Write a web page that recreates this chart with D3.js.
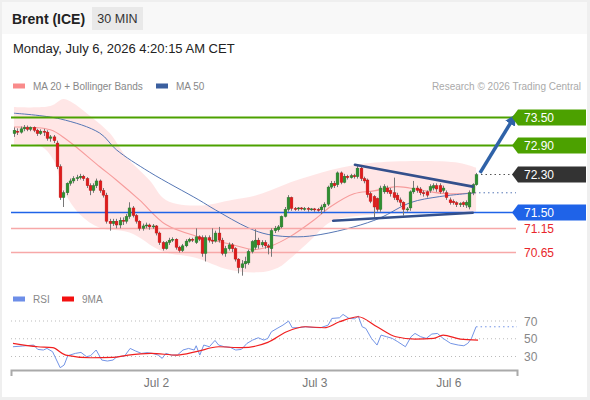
<!DOCTYPE html>
<html>
<head>
<meta charset="utf-8">
<script src="https://cdn.jsdelivr.net/npm/d3@7/dist/d3.min.js"></script>
<style>
  body { margin: 0; background: #efefef; font-family: "Liberation Sans", Arial, sans-serif; }
</style>
</head>
<body>
<div id="chart"></div>
<script>
// candle data, 30 min bars, index 0..140
var opens = [73.15,73.20,73.18,73.25,73.28,73.24,73.28,73.22,73.15,73.20,
  73.18,73.05,73.08,72.95,72.45,71.80,71.90,72.10,72.15,72.20,
  72.22,72.25,72.20,72.05,71.95,72.05,72.15,71.95,71.85,71.30,
  71.25,71.30,71.22,71.32,71.30,71.40,71.58,71.42,71.30,71.15,
  71.20,71.22,71.18,71.20,71.05,70.85,70.72,70.85,70.90,70.92,
  70.75,70.68,70.78,70.88,70.92,70.85,70.97,70.95,70.62,70.95,
  70.90,70.88,71.05,70.90,70.62,70.72,70.80,70.72,70.50,70.32,
  70.40,70.42,70.66,70.75,70.90,70.80,70.85,70.78,70.72,71.10,
  71.12,71.18,71.40,71.55,71.80,71.57,71.56,71.58,71.56,71.57,
  71.55,71.56,71.55,71.54,71.60,71.66,72.02,72.10,72.07,72.32,
  72.12,72.25,72.22,72.26,72.24,72.42,72.20,72.17,71.88,71.82,
  71.78,71.55,71.92,72.00,71.95,71.90,71.85,71.75,71.70,71.55,
  71.58,71.92,72.00,71.98,71.90,71.92,71.95,72.00,72.05,72.05,
  71.95,71.90,71.75,71.72,71.69,71.65,71.69,71.64,71.60,71.90,
  72.07];
var closes = [73.22,73.18,73.25,73.28,73.24,73.28,73.22,73.15,73.20,73.18,
  73.05,73.08,73.00,72.45,71.80,71.90,72.10,72.15,72.20,72.22,
  72.25,72.20,72.05,71.95,72.05,72.15,71.95,71.85,71.30,71.25,
  71.30,71.22,71.32,71.30,71.40,71.58,71.42,71.30,71.15,71.20,
  71.22,71.18,71.20,71.05,70.85,70.72,70.85,70.90,70.92,70.75,
  70.68,70.78,70.88,70.92,70.90,70.97,70.92,70.62,70.95,70.90,
  70.88,71.05,70.90,70.62,70.72,70.80,70.72,70.50,70.32,70.40,
  70.45,70.66,70.87,70.90,70.80,70.85,70.78,70.75,71.10,71.15,
  71.18,71.40,71.55,71.80,71.57,71.56,71.58,71.56,71.57,71.55,
  71.56,71.55,71.54,71.60,71.66,72.02,72.10,72.05,72.32,72.12,
  72.25,72.22,72.26,72.24,72.42,72.20,72.15,71.86,71.72,71.60,
  71.55,72.00,72.03,71.92,71.88,71.80,71.75,71.70,71.55,71.56,
  71.92,72.00,71.95,71.90,71.88,71.85,72.03,72.05,71.98,71.92,
  72.00,71.80,71.69,71.69,71.65,71.67,71.65,71.70,71.90,72.07,
  72.28];
var highs = [73.28,73.26,73.30,73.33,73.32,73.30,73.30,73.25,73.24,73.25,
  73.22,73.12,73.12,73.00,72.50,71.95,72.12,72.20,72.25,72.28,
  72.30,72.28,72.23,72.10,72.10,72.20,72.18,72.00,71.90,71.35,
  71.35,71.35,71.38,71.38,71.45,71.70,71.62,71.45,71.32,71.25,
  71.27,71.25,71.24,71.22,71.08,70.88,70.88,70.95,70.96,70.94,
  70.78,70.82,70.92,70.95,70.95,71.15,71.00,71.00,71.00,71.00,
  71.15,71.10,71.18,70.95,70.78,70.85,70.84,70.75,70.52,70.48,
  70.55,70.70,70.90,71.13,70.95,70.90,70.90,70.82,71.15,71.20,
  71.22,71.42,71.60,71.85,71.82,71.60,71.60,71.60,71.60,71.60,
  71.58,71.58,71.58,71.65,71.70,72.05,72.15,72.15,72.35,72.35,
  72.30,72.28,72.30,72.30,72.48,72.45,72.24,72.20,71.92,71.85,
  71.80,72.05,72.08,72.05,72.00,72.22,71.90,71.80,71.72,71.60,
  71.95,72.15,72.05,72.02,71.95,71.95,72.08,72.10,72.10,72.10,
  72.05,71.95,71.80,71.76,71.72,71.70,71.72,71.74,71.95,72.10,
  72.32];
var lows = [73.08,73.12,73.15,73.20,73.20,73.20,73.18,73.10,73.12,73.10,
  73.00,72.98,72.95,72.40,71.75,71.60,71.85,72.05,72.10,72.15,
  72.18,72.15,72.00,71.85,71.90,72.00,71.90,71.80,71.25,71.10,
  71.20,71.15,71.15,71.22,71.25,71.35,71.38,71.25,71.10,71.10,
  71.15,71.12,71.14,71.00,70.80,70.68,70.70,70.80,70.86,70.70,
  70.64,70.65,70.75,70.85,70.86,70.82,70.88,70.55,70.45,70.85,
  70.82,70.85,70.85,70.58,70.55,70.68,70.65,70.45,70.20,70.15,
  70.30,70.38,70.62,70.70,70.72,70.75,70.72,70.60,70.55,71.05,
  71.08,71.15,71.38,71.50,71.52,71.52,71.52,71.53,71.52,71.50,
  71.52,71.50,71.50,71.45,71.50,71.62,71.98,72.00,72.02,72.08,
  72.10,72.18,72.20,72.20,72.20,72.15,72.10,71.80,71.68,71.38,
  71.50,71.50,71.88,71.88,71.82,71.75,71.70,71.62,71.42,71.50,
  71.52,71.88,71.90,71.85,71.82,71.80,71.90,71.95,71.92,71.88,
  71.90,71.75,71.65,71.65,71.60,71.60,71.60,71.58,71.55,71.85,
  72.05];

// indicator lines: [bar index, price]
var ma20 = [[0,73.29],[11,73.23],[16,73.02],[26,72.45],[31,72.17],[38,71.75],[46,71.23],
  [56,70.97],[66,70.81],[73,70.70],[78,70.78],[84,70.99],[91,71.33],[96,71.61],
  [103,71.88],[109,71.94],[116,72.03],[123,71.96],[131,71.88],[140,71.90]];
var bbUpper = [[0,73.71],[11,73.73],[15,73.88],[18,73.79],[22,73.58],[29,73.16],[34,72.66],
  [41,72.17],[46,71.75],[56,71.63],[66,71.75],[72,71.82],[78,71.96],[84,72.13],[90,72.26],
  [96,72.38],[102,72.47],[108,72.53],[123,72.57],[135,72.53],[140,72.43]];
var bbLower = [[0,72.91],[8,72.89],[12,72.59],[15,71.96],[20,71.44],[26,71.16],[35,71.06],
  [45,70.66],[55,70.53],[65,70.28],[74,70.22],[80,70.32],[84,70.53],[90,70.91],[96,71.29],
  [105,71.42],[117,71.46],[129,71.48],[140,71.50]];
var ma50 = [[0,73.58],[14,73.46],[26,73.16],[31,72.81],[41,72.34],[56,71.75],[61,71.54],
  [71,71.16],[77,71.02],[86,70.97],[93,71.02],[103,71.18],[111,71.37],[120,71.69],
  [129,71.82],[140,71.90]];

// key levels
var levelValues = [73.50, 72.90, 72.30, 71.50, 71.15, 70.65];
var levelLabels = ["73.50", "72.90", "72.30", "71.50", "71.15", "70.65"];

// drawn pattern: triangle and target arrow, [bar index, price]
var triangleTop = [[103.3,72.49],[139,72.03]];
var triangleBottom = [[96.7,71.31],[139,71.48]];
var targetArrow = [[141.2,72.32],[151.2,73.46]];

// RSI (14) and its 9 period average
var rsiIdx = [-0.3,2.6,6.0,7.2,8.9,10.0,11.7,14.0,15.2,16.3,18.6,20.3,22.0,23.2,24.9,26.6,28.3,30.0,
  31.2,33.5,35.2,36.9,38.6,40.3,42.0,43.7,44.9,46.0,47.7,49.5,51.2,52.9,54.6,55.2,56.3,57.5,59.2,
  60.9,62.0,63.7,65.5,67.2,68.9,70.6,72.3,74.0,75.7,76.9,78.0,79.7,81.5,83.2,84.3,86.0,88.3,90.6,
  92.9,95.2,96.3,98.6,99.7,101.5,103.2,104.3,105.5,106.6,108.3,110.0,111.2,112.9,114.6,116.3,
  118.6,120.3,121.5,123.2,124.9,126.6,128.3,130.0,132.3,134.6,136.3,137.5,138.6,140.0];
var rsiVal = [41.0,41.8,42.9,38.0,37.3,39.1,35.4,17.4,20.4,30.9,33.5,34.6,29.8,30.9,37.3,26.0,24.9,26.0,
  29.8,30.5,39.1,36.1,33.5,34.3,33.5,31.6,27.9,33.5,31.6,31.6,37.3,39.1,37.3,42.1,31.6,42.9,41.0,
  48.1,42.9,41.0,40.3,37.3,38.0,44.8,48.5,51.1,48.5,50.4,57.9,61.6,65.4,69.9,62.4,62.4,63.5,62.8,
  62.4,65.4,72.9,73.6,77.4,72.9,72.5,75.5,63.5,61.6,50.4,42.9,54.1,52.3,50.4,46.6,
  41.0,52.3,56.0,52.3,50.4,55.3,56.0,50.4,44.8,42.9,42.1,44.8,50.4,63.5];
var rsiMa = [[-0.3,44.8],[7.2,41.0],[11.7,39.9],[15.7,31.6],[23.2,28.6],[30.0,29.0],[34.6,31.6],
  [41.5,33.5],[49.5,31.6],[55.2,35.4],[62.0,41.0],[68.9,39.9],[76.9,45.9],[82.6,57.9],[88.3,63.5],
  [94.0,62.4],[98.6,69.1],[104.3,74.8],[110.0,63.5],[115.7,52.3],[121.5,49.6],[127.2,50.4],
  [130.0,54.1],[135.2,49.6],[140.6,48.5]];
var rsiGrid = [70, 50, 30];

var dayTicks = [43, 91, 131.6];
var dayLabels = ["Jul 2", "Jul 3", "Jul 6"];

var W = 590, H = 400;
var svg = d3.select("#chart").append("svg").attr("width", W).attr("height", H)
  .style("font-family", "'Liberation Sans', Arial, sans-serif");

svg.append("rect").attr("width", W).attr("height", H).attr("fill", "#efefef");
svg.append("rect").attr("x", 2).attr("y", 2).attr("width", 585).attr("height", 395).attr("fill", "#fff");
svg.append("rect").attr("x", 2).attr("y", 2).attr("width", 585).attr("height", 32).attr("fill", "#f8f8f8");

// header
svg.append("text").attr("x", 12).attr("y", 24).attr("font-size", 14).attr("font-weight", "bold")
  .attr("fill", "#222").text("Brent (ICE)");
svg.append("rect").attr("x", 92).attr("y", 7).attr("width", 51).attr("height", 23).attr("fill", "#e9e9e9");
svg.append("text").attr("x", 117.5).attr("y", 23).attr("text-anchor", "middle").attr("font-size", 12.5)
  .attr("fill", "#333").text("30 MIN");
svg.append("text").attr("x", 13).attr("y", 53).attr("font-size", 13).attr("fill", "#222")
  .text("Monday, July 6, 2026 4:20:15 AM CET");

// legend
function legendItem(x, y, color, label) {
  svg.append("rect").attr("x", x).attr("y", y - 2.5).attr("width", 12).attr("height", 5).attr("fill", color);
  svg.append("text").attr("x", x + 20).attr("y", y + 3.5).attr("font-size", 10).attr("fill", "#888").text(label);
}
legendItem(13, 86, "#f98b8b", "MA 20 + Bollinger Bands");
legendItem(156, 86, "#3b5f9f", "MA 50");
svg.append("text").attr("x", 581).attr("y", 89.5).attr("text-anchor", "end").attr("font-size", 10)
  .attr("fill", "#aaa").text("Research \u00a9 2026 Trading Central");
legendItem(13, 299, "#6d8ee8", "RSI");
legendItem(62, 299, "#f31010", "9MA");

// scales
var x = d3.scaleLinear().domain([-0.9, 152.4]).range([11, 517]);
var y = d3.scaleLinear().domain([70.65, 73.5]).range([252, 117]);
var yr = d3.scaleLinear().domain([30, 70]).range([356.5, 321]);

var plot = svg.append("g");

// bollinger band
var curve = d3.line().x(function (d) { return x(d[0]); }).y(function (d) { return y(d[1]); })
  .curve(d3.curveCatmullRom);
var upPath = curve(bbUpper);
var loPath = curve(bbLower.slice().reverse());
plot.append("path").attr("d", upPath + "L" + loPath.substring(1) + "Z")
  .attr("fill", "#ffe3e3").attr("opacity", 0.9);

plot.append("path").attr("d", curve(ma20)).attr("fill", "none").attr("stroke", "#f79c9c").attr("stroke-width", 1.1);
plot.append("path").attr("d", curve(ma50)).attr("fill", "none").attr("stroke", "#5677b5").attr("stroke-width", 1);

// levels
var levelStyle = [
  { line: "#4ca100", w: 2, box: "#4ca100", text: "#fff", x0: 11 },
  { line: "#4ca100", w: 2, box: "#4ca100", text: "#fff", x0: 11 },
  { line: "#555", w: 1, box: "#333", text: "#fff", x0: 481, dash: "1.5,3" },
  { line: "#1f63e8", w: 1.5, box: "#1f63e8", text: "#fff", x0: 11 },
  { line: "#f7a8a8", w: 1.5, box: null, text: "#e8262b", x0: 11 },
  { line: "#f7a8a8", w: 1.5, box: null, text: "#e8262b", x0: 11 }
];
levelValues.forEach(function (v, i) {
  var s = levelStyle[i];
  var yy = Math.round(y(v)) + 0.5;
  plot.append("line").attr("x1", s.x0).attr("x2", 516).attr("y1", yy).attr("y2", yy)
    .attr("stroke", s.line).attr("stroke-width", s.w).attr("stroke-dasharray", s.dash || null);
  if (s.box) {
    svg.append("path")
      .attr("d", "M512," + yy + " L518," + (yy - 8) + " H586 V" + (yy + 8) + " H518 Z")
      .attr("fill", s.box);
  }
  svg.append("text").attr("x", 524).attr("y", yy + 4.5).attr("font-size", 12)
    .attr("fill", s.text).text(levelLabels[i]);
});
// last MA50 value, dotted
plot.append("line").attr("x1", 479).attr("x2", 516)
  .attr("y1", y(ma50[ma50.length - 1][1])).attr("y2", y(ma50[ma50.length - 1][1]))
  .attr("stroke", "#5677b5").attr("stroke-width", 1).attr("stroke-dasharray", "1.5,3");

// candles
var bars = d3.range(closes.length);
var cg = plot.append("g");
cg.selectAll("line.wick").data(bars).enter().append("line")
  .attr("x1", function (i) { return Math.round(x(i)) + 0.5; })
  .attr("x2", function (i) { return Math.round(x(i)) + 0.5; })
  .attr("y1", function (i) { return y(highs[i]); })
  .attr("y2", function (i) { return y(lows[i]); })
  .attr("stroke", "#777").attr("stroke-width", 1);
cg.selectAll("rect.body").data(bars).enter().append("rect")
  .attr("x", function (i) { return Math.round(x(i)) + 0.5 - 1.4; })
  .attr("width", 2.8)
  .attr("y", function (i) { return y(Math.max(opens[i], closes[i])); })
  .attr("height", function (i) { return Math.max(1, Math.abs(y(opens[i]) - y(closes[i]))); })
  .attr("fill", function (i) { return closes[i] >= opens[i] ? "#2f8f2f" : "#e01b1b"; })
  .attr("stroke", function (i) { return closes[i] >= opens[i] ? "#23702a" : "#b81414"; })
  .attr("stroke-width", 0.4);

// triangle
var straight = d3.line().x(function (d) { return x(d[0]); }).y(function (d) { return y(d[1]); });
[triangleTop, triangleBottom].forEach(function (t) {
  plot.append("path").attr("d", straight(t)).attr("stroke", "#34508c").attr("stroke-width", 2.6)
    .attr("fill", "none").attr("stroke-linecap", "round");
});

// target arrow
svg.append("defs").append("marker").attr("id", "ah").attr("viewBox", "0 0 10 10")
  .attr("refX", 5).attr("refY", 5).attr("markerWidth", 3.2).attr("markerHeight", 3.2)
  .attr("orient", "auto").attr("markerUnits", "strokeWidth")
  .append("path").attr("d", "M0,0 L10,5 L0,10 Z").attr("fill", "#2f62a8");
plot.append("path").attr("d", straight(targetArrow)).attr("stroke", "#2f62a8").attr("stroke-width", 3.5)
  .attr("fill", "none").attr("marker-end", "url(#ah)");

// RSI panel
rsiGrid.forEach(function (v) {
  svg.append("line").attr("x1", 11).attr("x2", 517).attr("y1", yr(v)).attr("y2", yr(v))
    .attr("stroke", "#bbb").attr("stroke-width", 1).attr("stroke-dasharray", "1,3");
  svg.append("text").attr("x", 524).attr("y", yr(v) + 4.5).attr("font-size", 12)
    .attr("fill", "#888").text(v);
});
var rsiPts = rsiIdx.map(function (d, i) { return [d, rsiVal[i]]; });
var rline = d3.line().x(function (d) { return x(d[0]); }).y(function (d) { return yr(d[1]); });
svg.append("path").attr("d", rline(rsiPts)).attr("fill", "none").attr("stroke", "#7394e6").attr("stroke-width", 1);
svg.append("path").attr("d", rline.curve(d3.curveMonotoneX)(rsiMa)).attr("fill", "none")
  .attr("stroke", "#f02020").attr("stroke-width", 1.2);
var lastRsi = rsiVal[rsiVal.length - 1];
svg.append("line").attr("x1", x(rsiIdx[rsiIdx.length - 1])).attr("x2", 517)
  .attr("y1", yr(lastRsi)).attr("y2", yr(lastRsi))
  .attr("stroke", "#7394e6").attr("stroke-width", 1).attr("stroke-dasharray", "1.5,3");

// time axis
var axis = d3.axisBottom(x).tickValues(dayTicks).tickFormat(function (d, i) { return dayLabels[i]; })
  .tickSizeInner(0).tickSizeOuter(6).tickPadding(8);
var ag = svg.append("g").attr("transform", "translate(0,370)").call(axis);
ag.select(".domain").attr("stroke", "#aaa").attr("stroke-width", 2);
ag.selectAll("text").attr("fill", "#777").attr("font-size", 12)
  .attr("font-family", "'Liberation Sans', Arial, sans-serif");
</script>
</body>
</html>
